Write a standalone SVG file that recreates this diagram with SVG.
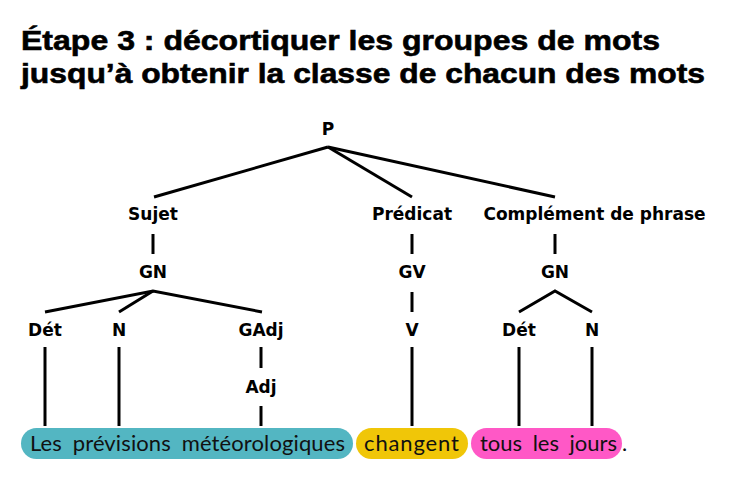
<svg xmlns="http://www.w3.org/2000/svg" width="734" height="479" viewBox="0 0 734 479">
<style>
.title{font-family:"Liberation Sans",Arial,sans-serif;font-weight:700;font-size:28px;fill:#000;stroke:#000;stroke-width:0.6}
.lbl{font-family:"DejaVu Sans","Open Sans",sans-serif;font-weight:700;font-size:17px;fill:#000;text-anchor:middle}
.sent{font-family:Lato,"Open Sans","DejaVu Sans",sans-serif;font-weight:400;font-size:22px;fill:#111;word-spacing:5px}
.ln{stroke:#000;stroke-width:3;fill:none;stroke-linecap:butt}
</style>
<rect width="734" height="479" fill="#fff"/>
<g id="title">
<text class="title" x="21" y="50" textLength="639" lengthAdjust="spacingAndGlyphs">Étape 3 : décortiquer les groupes de mots</text>
<text class="title" x="21" y="83" textLength="684" lengthAdjust="spacingAndGlyphs">jusqu’à obtenir la classe de chacun des mots</text>
</g>
<g id="connectors">
<line class="ln" x1="328" y1="147" x2="154" y2="197"/>
<line class="ln" x1="328" y1="147" x2="412" y2="197"/>
<line class="ln" x1="328" y1="147" x2="555" y2="197"/>
<line class="ln" x1="153" y1="234" x2="153" y2="254"/>
<line class="ln" x1="412" y1="234" x2="412" y2="254"/>
<line class="ln" x1="555" y1="234" x2="555" y2="254"/>
<polyline class="ln" points="45,312 153,291 262,312"/>
<line class="ln" x1="153" y1="291" x2="119" y2="312"/>
<line class="ln" x1="412" y1="292" x2="412" y2="312"/>
<polyline class="ln" points="519,312 555,291 592,312"/>
<line class="ln" x1="261" y1="347" x2="261" y2="368"/>
<line class="ln" x1="45" y1="347" x2="45" y2="426"/>
<line class="ln" x1="119" y1="347" x2="119" y2="426"/>
<line class="ln" x1="261" y1="406" x2="261" y2="426"/>
<line class="ln" x1="412" y1="347" x2="412" y2="426"/>
<line class="ln" x1="519" y1="347" x2="519" y2="426"/>
<line class="ln" x1="592" y1="347" x2="592" y2="426"/>
</g>
<g id="node-P"><text class="lbl" x="328" y="135">P</text></g>
<g id="node-sujet"><text class="lbl" x="153" y="220">Sujet</text></g>
<g id="node-predicat"><text class="lbl" x="412" y="220">Prédicat</text></g>
<g id="node-complement"><text class="lbl" x="594.5" y="220">Complément de phrase</text></g>
<g id="node-gn1"><text class="lbl" x="153" y="278">GN</text></g>
<g id="node-gv"><text class="lbl" x="412" y="278">GV</text></g>
<g id="node-gn2"><text class="lbl" x="555" y="278">GN</text></g>
<g id="node-det1"><text class="lbl" x="45" y="336">Dét</text></g>
<g id="node-n1"><text class="lbl" x="119" y="336">N</text></g>
<g id="node-gadj"><text class="lbl" x="261" y="336">GAdj</text></g>
<g id="node-adj"><text class="lbl" x="261" y="393">Adj</text></g>
<g id="node-v"><text class="lbl" x="412" y="336">V</text></g>
<g id="node-det2"><text class="lbl" x="519" y="336">Dét</text></g>
<g id="node-n2"><text class="lbl" x="592" y="336">N</text></g>
<g id="sentence">
<rect x="21" y="428" width="332" height="31" rx="15.5" fill="#53b6c2"/>
<rect x="356" y="428" width="112" height="31" rx="15.5" fill="#f0c608"/>
<rect x="471" y="428" width="151" height="31" rx="15.5" fill="#ff58c6"/>
<text class="sent" x="30" y="451" textLength="315">Les prévisions météorologiques</text>
<text class="sent" x="364" y="451" textLength="95">changent</text>
<text class="sent" x="480" y="451" textLength="137">tous les jours</text>
<text class="sent" x="622" y="451">.</text>
</g>
</svg>
